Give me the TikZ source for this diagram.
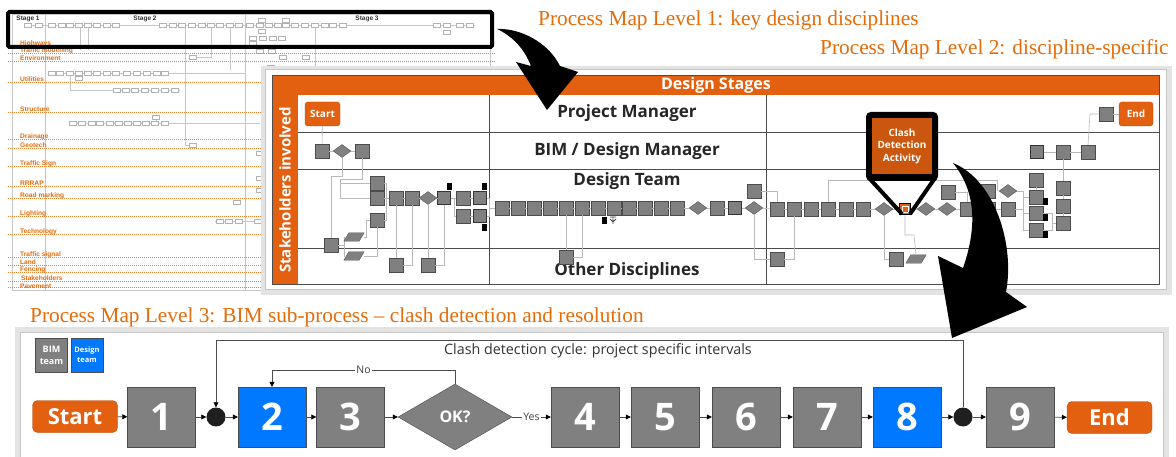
\documentclass[tikz,border=0pt]{standalone}
\usepackage{fontspec}
\setmainfont{Open Sans}
\newfontfamily\capfont{Liberation Serif}
\newfontfamily\lonefont{Liberation Sans}
\usetikzlibrary{arrows.meta,shapes.geometric}
\definecolor{capor}{RGB}{228,108,10}
\definecolor{boxor}{RGB}{226,96,16}
\definecolor{bxgray}{RGB}{128,128,128}
\definecolor{bxblue}{RGB}{0,120,255}
\begin{document}
\begin{tikzpicture}[x=1pt,y=-1pt,
  l1b/.style={draw=gray!60,fill=white,line width=0.4},
  l1l/.style={draw=gray!45,line width=0.45},
  l1o/.style={draw=capor!85,densely dotted,line width=1},
  l1t/.style={text=capor,font=\lonefont\bfseries\fontsize{6.6}{6.6}\selectfont,anchor=base west,inner sep=0},
  sq/.style={rectangle,fill=bxgray,draw=gray!60!black,line width=0.3,minimum size=14,inner sep=0},
  tk/.style={sq,draw=black!80,line width=1.3,minimum size=13},
  dm/.style={diamond,fill=bxgray,draw=gray!60!black,line width=0.3,minimum width=18,minimum height=13,aspect=1.4,inner sep=0},
  pg/.style={rectangle,minimum width=20,minimum height=8,inner sep=0},
  pgfill/.style={fill=bxgray,draw=gray!60!black,line width=0.3},
  c2/.style={draw=gray!55,line width=0.6},
  rt/.style={font=\bfseries\fontsize{17}{17}\selectfont,text=black!85},
  orb/.style={rectangle,rounded corners=3,fill=boxor,draw=boxor!80!black,line width=0.4,text=white,inner sep=0},
  b3/.style={rectangle,fill=bxgray,draw=gray!60!black,line width=0.4,minimum width=68,minimum height=60,inner sep=0,text=white,font=\bfseries\fontsize{38}{38}\selectfont},
  dot/.style={circle,fill=black!88,minimum size=19,inner sep=0},
  c3/.style={draw=gray!60!black,line width=0.6,-{Triangle[length=5pt,width=5pt,color=black]}},
  captxt/.style={text=capor,font=\capfont\fontsize{21.3}{21.3}\selectfont,anchor=base west,inner sep=0},
  docic/.style={fill=black}
]
\useasboundingbox (0,0) rectangle (1176,457);
\fill[white] (0,0) rectangle (1176,457);

% ================= LEVEL 1 (background map) =================
\draw[l1l] (12,14) rectangle (490,290);
\draw[l1l] (45,14) -- (45,290);
\draw[l1l] (245,14) -- (245,290);
\draw[l1l] (24,25) -- (475,25);
\draw[l1l] (80,25) -- (80,50);
\draw[l1l] (88,25) -- (88,50);
\draw[l1l] (185,25) -- (185,145) -- (189,145);
\draw[l1l] (211,25) -- (211,57) -- (197,57);
\draw[l1l] (230,25) -- (230,70);
\draw[l1l] (315,25) -- (315,70);
\draw[l1l] (48,73) -- (245,73);
\draw[l1l] (70,73) -- (70,90) -- (180,90);
\draw[l1l] (69,123) -- (260,123);
\draw[l1l] (156,117) -- (156,123);
\draw[l1l] (215,221) -- (262,221);
\foreach \x in {28,39,52,62,70,79,88,97,107,116,163,173,182,192,202,211,220,230,239,250,260,269,278,286,295,305,315,325,333,343,437,447,460,470}
  \draw[l1b] (\x-3.5,23) rectangle (\x+3.5,27);
\foreach \x/\y in {262/20,286/20,262/31,253/38,263/38,273/38,282/38,253/43,260/51,272/51,283/57,306/57,193/57,271/67,447/32,79/78,156/117,193/145,260/153,260/178,260/190,237/202}
  \draw[l1b] (\x-3.5,\y-2) rectangle (\x+3.5,\y+2);
\foreach \x in {52,60,70,79,88,97,107,116,127,137,147,157,165}
  \draw[l1b] (\x-3.5,71) rectangle (\x+3.5,75);
\foreach \x in {117,126,135,145,155,165,175}
  \draw[l1b] (\x-3.5,88) rectangle (\x+3.5,92);
\foreach \x in {73,82,92,100,110,119,128,137,146,155,165}
  \draw[l1b] (\x-3.5,121) rectangle (\x+3.5,125);
\foreach \x in {220,229,239,258}
  \draw[l1b] (\x-3.5,219) rectangle (\x+3.5,223);
% discipline lines and labels
\foreach \y in {54,62,83,113,140,149,167,187,199,217,235,258,266,273,282,288}
  \draw[l1o] (8,\y) -- (495,\y);
\node[l1t] (h1) at (20,46) {Highways};
\node[l1t] (h2) at (20,53) {Traffic modelling};
\node[l1t] (h3) at (20,61) {Environment};
\node[l1t] (h4) at (20,82) {Utilities};
\node[l1t] (h5) at (20,112) {Structure};
\node[l1t] (h6) at (20,139) {Drainage};
\node[l1t] (h7) at (20,148) {Geotech};
\node[l1t] (h8) at (20,166) {Traffic Sign};
\node[l1t] (h9) at (20,186) {RRRAP};
\node[l1t] (h10) at (20,198) {Road marking};
\node[l1t] (h11) at (20,216) {Lighting};
\node[l1t] (h12) at (20,234) {Technology};
\node[l1t] (h13) at (20,257) {Traffic signal};
\node[l1t] (h14) at (20,265) {Land};
\node[l1t] (h15) at (20,272) {Fencing};
\node[l1t] (h16) at (21,281) {Stakeholders};
\node[l1t] (h17) at (20,288) {Pavement};
\node[font=\lonefont\bfseries\fontsize{6.5}{6.5}\selectfont,text=black!80,inner sep=0] (sg1) at (28,19) {Stage 1};
\node[font=\lonefont\bfseries\fontsize{6.5}{6.5}\selectfont,text=black!80,inner sep=0] (sg2) at (145,19) {Stage 2};
\node[font=\lonefont\bfseries\fontsize{6.5}{6.5}\selectfont,text=black!80,inner sep=0] (sg3) at (367,19) {Stage 3};
\draw[line width=4,rounded corners=1.5] (8,12) rectangle (492,47);

% captions
\node[captxt] (cap1) at (538,26) {Process Map Level 1: key design disciplines};
\node[captxt] (cap2) at (820,55) {Process Map Level 2: discipline-specific};
\node[captxt] (cap3) at (30,322) {Process Map Level 3: BIM sub-process – clash detection and resolution};

% ================= LEVEL 2 =================
\fill[gray!22] (261,66) rectangle (1172,295);
\fill[white] (265,69) rectangle (1166,289);
\draw[gray!45,line width=0.5] (265,69) rectangle (1166,289);
\fill[boxor] (272,75) rectangle (1159,95);
\fill[boxor] (272,95) rectangle (298,284);
\draw[gray!60!black,line width=0.6] (272,75) rectangle (1159,284);
\foreach \y in {132,169,248} \draw[gray!60!black,line width=0.6] (298,\y) -- (1159,\y);
\foreach \x in {489,766} \draw[gray!60!black,line width=0.6] (\x,95) -- (\x,284);
\node[text=white,font=\bfseries\fontsize{16}{16}\selectfont] (hdr) at (716,85) {Design Stages};
\node[rotate=90,text=white,font=\bfseries\fontsize{15}{15}\selectfont] (stk) at (285,190) {Stakeholders involved};
\node[rt] (r1) at (627,113) {Project Manager};
\node[rt] (r2) at (627,151) {BIM / Design Manager};
\node[rt] (r3) at (627,181) {Design Team};
\node[rt] (r4) at (627,271) {Other Disciplines};

\node[orb,minimum width=35,minimum height=24,font=\bfseries\fontsize{10}{10}\selectfont] (s2) at (322.5,114) {Start};
\node[orb,minimum width=34,minimum height=24,font=\bfseries\fontsize{10}{10}\selectfont] (e2) at (1136,114) {End};

% column 1
\node[sq] (b1) at (322,151) {};
\node[dm] (b2) at (342,151) {};
\node[sq] (b3) at (362,151) {};
\node[sq] (A) at (377,183) {};
\node[sq] (B) at (377,198) {};
\node[sq] (C) at (377,220) {};
\node[sq] (P) at (331,245) {};
\node[pg] (G1) at (354,237) {};
\node[pg] (G2) at (354,256) {};
\node[sq] (d1) at (396,198) {};
\node[sq] (d2) at (412,198) {};
\node[dm] (d3) at (428,198) {};
\node[tk] (d4) at (444,198) {};
\node[sq] (d5) at (463,198) {};
\node[tk] (d6) at (480,198) {};
\node[sq] (d7) at (463,216) {};
\node[tk] (d8) at (480,216) {};
\node[sq] (o1) at (396,265) {};
\node[sq] (o2) at (428,265) {};
\fill[docic] (447,183) rectangle (452,190);
\fill[docic] (482,183) rectangle (487,190);
\fill[docic] (482,224) rectangle (487,231);

\draw[c2] (s2) -- (b1);
\draw[c2] (b1) -- (b2) -- (b3);
\draw[c2] (b2.south) -- (342,176) -- (331,176) -- (P.north);
\draw[c2] (b3.south) -- (362,179) -- (340,179) -- (340,198) -- (B.west);
\draw[c2] (340,183) -- (A.west);
\draw[c2] (P.east) -- (344,245) -- (344,237) -- (G1.west);
\draw[c2] (344,245) -- (344,256) -- (G2.west);
\draw[c2] (G1.east) -- (366,237) -- (366,220) -- (C.west);
\draw[c2] (G2.east) -- (377,256) -- (C.south);
\draw[c2] (A.east) -- (386,183) -- (386,198);
\draw[c2] (C.east) -- (386,220) -- (386,198);
\draw[c2] (B) -- (d1) -- (d2) -- (d3) -- (d4) -- (d5) -- (d6);
\draw[c2] (d4.east) -- (454,198) -- (454,216) -- (d7.west);
\draw[c2] (d7) -- (d8);
\draw[c2] (d1.south) -- (o1.north);
\draw[c2] (o1.east) -- (412,265) -- (d2.south);
\draw[c2] (d3.south) -- (o2.north);
\draw[c2] (o2.east) -- (444,265) -- (d4.south);

% column 2
\foreach \i/\x in {1/502,2/518,3/534,4/550,5/566,6/582,7/598,8/614,9/629,10/645,11/661,12/677}
  \node[sq] (m\i) at (\x,208) {};
\node[dm] (m13) at (698,208) {};
\node[sq] (m14) at (717,208) {};
\node[tk] (m15) at (735,208) {};
\node[dm] (m16) at (754,208) {};
\node[sq] (u1) at (754,191) {};
\node[sq] (o3) at (566,257) {};
\fill[docic] (602,217) rectangle (607,224);
\draw[gray!60!black,line width=0.8] (610,217) -- (616,217) (613,217) -- (613,224) (610,219) -- (613,222) -- (616,219);
\draw[c2] (d6.east) -- (489.5,198) -- (489.5,208) -- (m1.west);
\draw[c2] (d8.east) -- (489.5,216) -- (489.5,208);
\draw[c2] (m1) -- (m2) -- (m3) -- (m4) -- (m5) -- (m6) -- (m7) -- (m8) -- (m9) -- (m10) -- (m11) -- (m12) -- (m13) -- (m14) -- (m15) -- (m16);
\draw[c2] (m5.south) -- (o3.north);
\draw[c2] (o3.east) -- (582,257) -- (m6.south);

% column 3
\foreach \i/\x in {1/777,2/794,3/811,4/828,5/846,6/863}
  \node[sq] (n\i) at (\x,209) {};
\node[dm] (n7) at (884,209) {};
\node[rectangle,fill=boxor,draw=black,line width=1.2,minimum size=11,inner sep=0] (n8) at (905,209) {};
\draw[white,line width=0.6] (902,206) rectangle (908,212);
\node[dm] (n9) at (926,209) {};
\node[dm] (n10) at (947,209) {};
\node[sq] (n11) at (967,209) {};
\node[sq] (n12) at (988,209) {};
\node[sq] (n13) at (1008,209) {};
\node[sq] (u2) at (948,192) {};
\node[sq] (u4) at (988,191) {};
\node[dm] (u3) at (1008,191) {};
\node[sq] (o4) at (777,259) {};
\node[sq] (o5) at (896,259) {};
\node[pg] (o6) at (916,259) {};
\node[sq] (q1) at (1036,180) {};
\node[sq] (q2) at (1036,197) {};
\node[sq] (q3) at (1036,213) {};
\node[sq] (q4) at (1036,230) {};
\node[sq] (q5) at (1063,188) {};
\node[sq] (q6) at (1063,206) {};
\node[sq] (q7) at (1063,223) {};
\fill[docic] (1043,198) rectangle (1048,205);
\fill[docic] (1043,214) rectangle (1048,221);
\fill[docic] (1043,231) rectangle (1048,238);
\node[tk] (t1) at (1037,152) {};
\node[sq] (t2) at (1063,152) {};
\node[sq] (t3) at (1088,152) {};
\node[sq] (t4) at (1106,114) {};
\foreach \n in {G1,G2,o6}
  \filldraw[pgfill] (\n.south west) -- ([xshift=-5pt]\n.south east) -- (\n.north east) -- ([xshift=5pt]\n.north west) -- cycle;

\draw[c2] (m16) -- (n1);
\draw[c2] (u1.east) -- (777,191) -- (n1.north);
\draw[c2] (m16.south) -- (754,259) -- (o4.west);
\draw[c2] (o4.east) -- (794,259) -- (n2.south);
\draw[c2] (n1) -- (n2) -- (n3) -- (n4) -- (n5) -- (n6) -- (n7) -- (n8) -- (n9) -- (n10) -- (n11) -- (n12) -- (n13);
\draw[c2] (n4.north) -- (828,180) -- (997,180) -- (997,191);
\draw[c2] (u2.east) -- (967,192) -- (n11.north);
\draw[c2] (n7.south) -- (884,259) -- (o5.west);
\draw[c2] (n8.south) -- (905,235) -- (914,235) -- (o6.north);
\draw[c2] (u3.east) -- (1023,191) -- (1023,230) -- (q4.west);
\draw[c2] (1023,197) -- (q2.west);
\draw[c2] (n13.east) -- (1023,209);
\draw[c2] (1023,213) -- (q3.west);
\draw[c2] (q1) -- (q2);
\draw[c2] (q3.east) -- (1052,213) -- (1052,223) -- (q7.west);
\draw[c2] (q4.east) -- (1052,230) -- (1052,223);
\draw[c2] (q5) -- (q6) -- (q7);
\draw[c2] (q5.north) -- (t2.south);
\draw[c2] (t1) -- (t2) -- (t3);
\draw[c2] (t3.north) -- (1090,114) -- (t4.west);
\draw[c2] (t4) -- (e2);

% callout
\draw[line width=4,line join=round] (869,178) -- (902,214) (935,178) -- (910,214);
\draw[line width=4,rounded corners=3,fill=black] (868,114) rectangle (936,179);
\node[rectangle,fill=boxor!90!black,text=white,minimum width=60,minimum height=56,inner sep=0,align=center,font=\bfseries\fontsize{10}{12.5}\selectfont] (cda) at (902,146) {Clash\\Detection\\Activity};

% ================= LEVEL 3 =================
\fill[gray!22] (15,327) rectangle (1169,462);
\fill[white] (20,332) rectangle (1163,462);
\draw[gray!45,line width=0.5] (20,332) rectangle (1163,462);

\node[rectangle,fill=bxgray,draw=gray!60!black,line width=0.3,minimum width=32,minimum height=34,inner sep=0,text=white,align=center,font=\bfseries\fontsize{9}{12}\selectfont] (lg1) at (51.5,355) {BIM\\team};
\node[rectangle,fill=bxblue,draw=gray!60!black,line width=0.3,minimum width=32,minimum height=34,inner sep=0,text=white,align=center,font=\bfseries\fontsize{7.5}{10}\selectfont] (lg2) at (87,355) {Design\\team};

\node[orb,rounded corners=5,minimum width=85,minimum height=32,font=\bfseries\fontsize{22}{22}\selectfont] (S3) at (75,416.5) {Start};
\node[b3] (N1) at (161.5,417) {1};
\node[dot] (D1) at (216,417) {};
\node[b3,fill=bxblue] (N2) at (272,417) {2};
\node[b3] (N3) at (350.5,417) {3};
\node[diamond,aspect=1.73,minimum width=114,minimum height=66,inner sep=0,fill=bxgray,draw=gray!60!black,line width=0.4,text=white,font=\bfseries\fontsize{16}{16}\selectfont] (OK) at (455,417) {OK?};
\node[b3] (N4) at (585,417) {4};
\node[b3] (N5) at (665,417) {5};
\node[b3] (N6) at (746,417) {6};
\node[b3] (N7) at (827,417) {7};
\node[b3,fill=bxblue] (N8) at (907,417) {8};
\node[dot] (D2) at (963,417) {};
\node[b3] (N9) at (1020,417) {9};
\node[orb,rounded corners=5,minimum width=85,minimum height=32,font=\bfseries\fontsize{22}{22}\selectfont] (E3) at (1109.5,417.5) {End};

\draw[c3] (S3) -- (N1);
\draw[c3] (N1) -- (D1);
\draw[c3] (D1) -- (N2);
\draw[c3] (N2) -- (N3);
\draw[c3] (N3) -- (OK);
\draw[c3] (OK) -- node[fill=white,inner sep=1.5,text=black!75,font=\fontsize{10.5}{10.5}\selectfont] (yes) {Yes} (N4);
\draw[c3] (N4) -- (N5);
\draw[c3] (N5) -- (N6);
\draw[c3] (N6) -- (N7);
\draw[c3] (N7) -- (N8);
\draw[c3] (N8) -- (D2);
\draw[c3] (D2) -- (N9);
\draw[c3] (N9) -- (E3);
\draw[c3] (D2.north) -- (963,340) -- (216,340) -- (D1.north);
\draw[c3] (OK.north) -- (455,370) -- node[pos=0.5,fill=white,inner sep=1.5,text=black!75,font=\fontsize{10.5}{10.5}\selectfont] (no) {No} (272,370) -- (N2.north);
\node[text=black!80,font=\fontsize{14.3}{14.3}\selectfont] (cyc) at (598,351) {Clash detection cycle: project specific intervals};

% ================= big arrows =================
\fill[black] (497,29) .. controls (520,28) and (548,42) .. (560,66) -- (578,72) -- (547,110) -- (516,62) -- (531,66) .. controls (524,48) and (512,36) .. (497,29) -- cycle;
\fill[black] (953,163) .. controls (995,180) and (1015,245) .. (1006,292) -- (1027,307) -- (952,338) -- (938,256) -- (963,268) .. controls (978,225) and (975,190) .. (953,163) -- cycle;
\end{tikzpicture}
\end{document}
